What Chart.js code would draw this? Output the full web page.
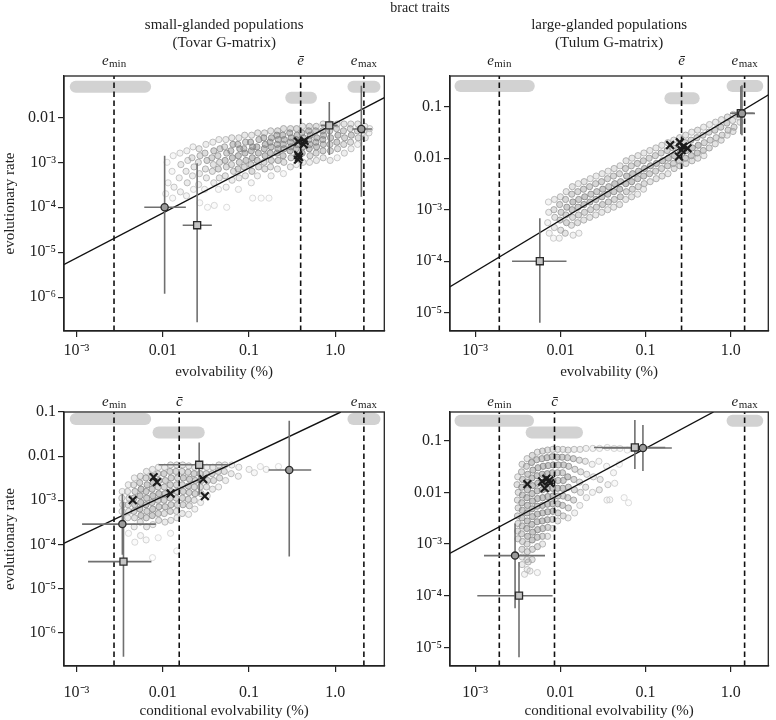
<!DOCTYPE html>
<html><head><meta charset="utf-8">
<script src="https://cdn.jsdelivr.net/npm/chart.js@4.4.1/dist/chart.umd.min.js"></script>
<style>
html,body{margin:0;padding:0;background:#fff;}
body{width:776px;height:720px;position:relative;overflow:hidden;}
canvas{position:absolute;}
#bract{position:absolute;left:370px;top:0;width:100px;text-align:center;font:14px "Liberation Serif",serif;line-height:16px;color:#222;z-index:5;}
</style></head>
<body>
<div id="bract">bract traits</div>
<canvas id="c1" width="392" height="385" style="left:0;top:0"></canvas>
<canvas id="c2" width="384" height="385" style="left:392px;top:0"></canvas>
<canvas id="c3" width="392" height="335" style="left:0;top:385px"></canvas>
<canvas id="c4" width="384" height="335" style="left:392px;top:385px"></canvas>
<script>
// ================= DATA =================
const xTickVals = [0.001, 0.01, 0.1, 1];
const xTickLabels = ['10⁻³', '0.01', '0.1', '1.0'];
const yTickVals = [0.1, 0.01, 1e-3, 1e-4, 1e-5, 1e-6];
const yTickLabels = ['0.1', '0.01', '10⁻³', '10⁻⁴', '10⁻⁵', '10⁻⁶'];

const panelTitles = [['small-glanded populations', '(Tovar G-matrix)'], ['large-glanded populations', '(Tulum G-matrix)'], null, null];
const xTitles = ['evolvability (%)', 'evolvability (%)', 'conditional evolvability (%)', 'conditional evolvability (%)'];
const yTitle = 'evolutionary rate';
const markLabelsTop = [['e', 'min'], ['ē', ''], ['e', 'max']];
const markLabelsBottom = [['e', 'min'], ['c̄', ''], ['e', 'max']];

// axis ranges [min, max]
const p1X = [7.16e-4, 3.69], p1Y = [1.78e-7, 0.0828];
const p2X = [5.07e-4, 2.75], p2Y = [4.42e-6, 0.394];
const p3X = [7.16e-4, 3.69], p3Y = [1.75e-7, 0.1];
const p4X = [5.07e-4, 2.75], p4Y = [4.35e-6, 0.36];

// dashed reference lines: e_min, mean, e_max
const p1Marks = [0.00272, 0.396, 2.14];
const p2Marks = [0.00192, 0.264, 1.45];
const p3Marks = [0.00272, 0.0155, 2.14];
const p4Marks = [0.00192, 0.00853, 1.45];

// grey interval bars [from, to, level]
const p1Bands = [[0.00098, 0.00624, 0.0479], [0.308, 0.521, 0.0273], [1.62, 2.84, 0.0479]];
const p2Bands = [[0.000673, 0.00426, 0.252], [0.1955, 0.366, 0.1455], [1.047, 2.04, 0.252]];
const p3Bands = [[0.00098, 0.00624, 0.0693], [0.00893, 0.0261, 0.0344], [1.62, 2.84, 0.0693]];
const p4Bands = [[0.000673, 0.00417, 0.244], [0.0046, 0.01567, 0.1445], [1.047, 2.04, 0.244]];

// regression line endpoints
const p1Fit = [[7.0e-4, 5.25e-6], [3.7, 2.74e-2]];
const p2Fit = [[5.0e-4, 3.15e-5], [2.8, 0.172]];
const p3Fit = [[7.0e-4, 1.04e-4], [1.156, 0.1]];
const p4Fit = [[5.0e-4, 6.56e-4], [0.626, 0.36]];

// estimates [x, y, xlo, xhi, ylo, yhi, marker]
const p1Est = [
  [0.0105, 1.0e-4, 0.0061, 0.0185, 1.2e-6, 1.4e-3, 'circle'],
  [0.025, 4.0e-5, 0.017, 0.037, 2.8e-7, 9.5e-4, 'square'],
  [0.85, 6.6e-3, 0.68, 1.06, 1.45e-3, 0.022, 'square'],
  [2.0, 5.5e-3, 1.57, 2.66, 1.72e-4, 0.05, 'circle']];
const p2Est = [
  [0.00574, 1.0e-4, 0.00271, 0.0118, 6.4e-6, 6.8e-4, 'square'],
  [1.31, 0.0744, 0.98, 1.85, 0.029, 0.25, 'square'],
  [1.35, 0.074, 1.03, 1.92, 0.028, 0.26, 'circle']];
const p3Est = [
  [0.0034, 2.88e-4, 0.00116, 0.0083, 5.8e-5, 1.4e-3, 'circle'],
  [0.0035, 4.07e-5, 0.00136, 0.00738, 2.85e-7, 9.3e-4, 'square'],
  [0.0264, 6.37e-3, 0.00893, 0.0588, 1.33e-3, 0.0204, 'square'],
  [0.292, 4.83e-3, 0.168, 0.525, 5.28e-5, 0.0635, 'circle']];
const p4Est = [
  [0.00294, 5.97e-4, 0.00127, 0.0066, 5.7e-5, 2.5e-3, 'circle'],
  [0.00327, 1.0e-4, 0.00106, 0.0081, 6.4e-6, 4.5e-4, 'square'],
  [0.0748, 0.0741, 0.0248, 0.17, 0.0283, 0.252, 'square'],
  [0.093, 0.0721, 0.031, 0.203, 0.0258, 0.201, 'circle']];

// observed populations (crosses)
const p1Cross = [[0.37, 2.9e-3], [0.44, 3.0e-3], [0.43, 2.5e-3], [0.37, 1.45e-3], [0.37, 1.15e-3], [0.38, 1.3e-3]];
const p2Cross = [[0.194, 0.018], [0.252, 0.0204], [0.264, 0.0144], [0.31, 0.0156], [0.246, 0.0107], [0.275, 0.0167]];
const p3Cross = [[0.00783, 3.35e-3], [0.00855, 2.58e-3], [0.00448, 1.01e-3], [0.01233, 1.42e-3], [0.0294, 3.02e-3], [0.0307, 1.24e-3]];
const p4Cross = [[0.0041, 0.01446], [0.0061, 0.01626], [0.00684, 0.01833], [0.0074, 0.017], [0.00655, 0.0121], [0.00759, 0.0151]];

// simulated clouds
const p1Cloud = [
[0.0112,1.0e-3],[0.0115,3.5e-4],[0.0108,2.0e-4],
[0.0132,1.4e-3],[0.0128,6.3e-4],[0.0135,2.8e-4],[0.013,1.6e-4],
[0.0158,1.6e-3],[0.0162,8.9e-4],[0.0155,4.5e-4],[0.016,2.2e-4],
[0.019,1.8e-3],[0.0195,1.1e-3],[0.0186,6.3e-4],[0.0192,3.5e-4],[0.0188,1.8e-4],
[0.0224,2.2e-3],[0.0218,1.26e-3],[0.023,7.9e-4],[0.0221,5.0e-4],[0.0227,2.5e-4],
[0.0263,2.0e-3],[0.027,1.4e-3],[0.0258,1.0e-3],[0.0266,5.6e-4],[0.026,3.2e-4],[0.0268,1.26e-4],
[0.0316,2.5e-3],[0.0308,1.6e-3],[0.0325,1.1e-3],[0.0312,7.1e-4],[0.032,4.5e-4],[0.0305,2.5e-4],[0.033,1.0e-4],
[0.038,2.8e-3],[0.039,1.8e-3],[0.037,1.26e-3],[0.0385,8.9e-4],[0.0375,6.3e-4],[0.039,3.5e-4],[0.0395,1.1e-4],
[0.0447,3.2e-3],[0.046,2.0e-3],[0.0435,1.4e-3],[0.0455,1.0e-3],[0.044,7.1e-4],[0.0452,4.5e-4],[0.0442,2.5e-4],
[0.0537,3.2e-3],[0.052,2.2e-3],[0.055,1.6e-3],[0.0528,1.1e-3],[0.0545,7.9e-4],[0.053,5.0e-4],[0.0542,2.8e-4],[0.055,1.0e-4],
[0.063,3.5e-3],[0.065,2.5e-3],[0.0615,1.8e-3],[0.064,1.26e-3],[0.0625,8.9e-4],[0.066,6.3e-4],[0.0635,4.0e-4],
[0.076,3.5e-3],[0.074,2.5e-3],[0.078,2.0e-3],[0.075,1.4e-3],[0.077,1.0e-3],[0.0745,7.1e-4],[0.0765,4.5e-4],[0.0752,2.5e-4],
[0.089,4.0e-3],[0.091,2.8e-3],[0.087,2.0e-3],[0.0895,1.6e-3],[0.092,1.1e-3],[0.088,7.9e-4],[0.0905,5.0e-4],
[0.107,4.0e-3],[0.104,2.8e-3],[0.11,2.2e-3],[0.106,1.8e-3],[0.109,1.26e-3],[0.105,8.9e-4],[0.108,6.3e-4],[0.106,3.5e-4],[0.11,1.6e-4],
[0.126,4.5e-3],[0.13,3.2e-3],[0.123,2.2e-3],[0.128,1.6e-3],[0.124,1.1e-3],[0.129,7.9e-4],[0.125,5.0e-4],[0.138,1.6e-4],
[0.151,4.5e-3],[0.148,3.5e-3],[0.154,2.5e-3],[0.15,2.0e-3],[0.153,1.4e-3],[0.149,1.0e-3],[0.152,7.1e-4],[0.17,1.6e-4],
[0.178,5.0e-3],[0.182,3.5e-3],[0.175,2.8e-3],[0.18,2.2e-3],[0.176,1.6e-3],[0.181,1.1e-3],[0.177,7.9e-4],[0.18,5.0e-4],
[0.214,5.0e-3],[0.21,4.0e-3],[0.218,3.2e-3],[0.212,2.5e-3],[0.216,2.0e-3],[0.211,1.6e-3],[0.217,1.1e-3],[0.213,7.1e-4],
[0.251,5.6e-3],[0.246,4.0e-3],[0.256,3.2e-3],[0.249,2.5e-3],[0.254,2.0e-3],[0.248,1.4e-3],[0.253,1.0e-3],[0.25,5.6e-4],
[0.302,5.6e-3],[0.296,4.5e-3],[0.308,3.5e-3],[0.3,2.8e-3],[0.305,2.2e-3],[0.298,1.8e-3],[0.306,1.26e-3],[0.301,7.9e-4],
[0.355,5.6e-3],[0.36,4.0e-3],[0.35,3.2e-3],[0.358,2.5e-3],[0.352,2.0e-3],[0.357,1.4e-3],[0.353,8.9e-4],
[0.417,6.3e-3],[0.41,4.5e-3],[0.425,3.5e-3],[0.415,2.8e-3],[0.42,2.2e-3],[0.412,1.6e-3],[0.422,1.0e-3],
[0.5,6.3e-3],[0.49,5.0e-3],[0.51,4.0e-3],[0.495,3.2e-3],[0.505,2.5e-3],[0.498,2.0e-3],[0.508,1.4e-3],[0.502,1.0e-3],
[0.6,6.3e-3],[0.59,5.0e-3],[0.61,3.5e-3],[0.595,2.8e-3],[0.605,2.2e-3],[0.598,1.6e-3],[0.603,1.1e-3],
[0.72,7.1e-3],[0.71,5.0e-3],[0.73,4.0e-3],[0.715,3.2e-3],[0.725,2.5e-3],[0.718,1.8e-3],[0.722,1.26e-3],
[0.87,7.1e-3],[0.86,5.0e-3],[0.88,3.5e-3],[0.865,2.5e-3],[0.875,1.8e-3],[0.87,1.1e-3],
[1.05,7.1e-3],[1.03,5.6e-3],[1.07,4.0e-3],[1.04,2.8e-3],[1.06,2.0e-3],[1.05,1.26e-3],
[1.26,7.1e-3],[1.24,5.0e-3],[1.28,3.5e-3],[1.25,2.5e-3],[1.27,1.6e-3],
[1.51,7.1e-3],[1.49,5.6e-3],[1.53,4.0e-3],[1.5,2.8e-3],[1.52,2.0e-3],
[1.82,7.1e-3],[1.8,5.0e-3],[1.84,3.5e-3],[1.81,2.5e-3],
[2.19,6.3e-3],[2.16,5.0e-3],[2.22,3.5e-3],
[2.5,5.6e-3],[2.45,4.5e-3]];

const p2Cloud = [
[0.00724,1.41e-3],[0.0073,8.9e-4],[0.0071,5.6e-4],[0.0074,3.5e-4],
[0.00851,1.58e-3],[0.0084,1.0e-3],[0.0086,7.1e-4],[0.0085,4.5e-4],[0.0083,2.8e-4],
[0.01,1.78e-3],[0.0098,1.26e-3],[0.0102,8.9e-4],[0.0099,6.3e-4],[0.0101,4.0e-4],[0.0097,2.8e-4],
[0.0117,2.24e-3],[0.0115,1.58e-3],[0.0119,1.12e-3],[0.0116,7.9e-4],[0.0118,5.6e-4],[0.0114,3.5e-4],
[0.0138,2.8e-3],[0.0136,2.0e-3],[0.014,1.41e-3],[0.0137,1.0e-3],[0.0139,7.1e-4],[0.0135,5.0e-4],[0.0141,3.2e-4],
[0.0162,3.2e-3],[0.016,2.24e-3],[0.0164,1.58e-3],[0.0161,1.12e-3],[0.0163,7.9e-4],[0.0159,5.6e-4],[0.0165,3.5e-4],
[0.019,3.5e-3],[0.0187,2.5e-3],[0.0193,1.78e-3],[0.0189,1.26e-3],[0.0192,8.9e-4],[0.0188,6.3e-4],
[0.0224,4.0e-3],[0.022,2.8e-3],[0.0228,2.0e-3],[0.0222,1.41e-3],[0.0226,1.0e-3],[0.0221,7.1e-4],
[0.0263,4.5e-3],[0.0259,3.2e-3],[0.0267,2.24e-3],[0.0261,1.58e-3],[0.0265,1.12e-3],[0.026,7.9e-4],
[0.0309,5.0e-3],[0.0304,3.5e-3],[0.0314,2.5e-3],[0.0307,1.78e-3],[0.0312,1.26e-3],[0.0306,8.9e-4],
[0.0363,5.6e-3],[0.0357,4.0e-3],[0.0369,2.8e-3],[0.036,2.0e-3],[0.0366,1.41e-3],[0.0359,1.0e-3],
[0.0427,6.3e-3],[0.042,4.5e-3],[0.0434,3.2e-3],[0.0424,2.24e-3],[0.043,1.58e-3],[0.0422,1.12e-3],
[0.0501,7.1e-3],[0.0493,5.0e-3],[0.0509,3.5e-3],[0.0497,2.5e-3],[0.0505,1.78e-3],[0.0495,1.26e-3],
[0.0589,8.9e-3],[0.058,6.3e-3],[0.0598,4.5e-3],[0.0585,3.2e-3],[0.0594,2.24e-3],[0.0583,1.58e-3],
[0.0692,1.0e-2],[0.068,7.1e-3],[0.0704,5.0e-3],[0.0687,3.5e-3],[0.0698,2.5e-3],[0.0685,1.78e-3],
[0.0813,1.12e-2],[0.08,7.9e-3],[0.0826,5.6e-3],[0.0807,4.0e-3],[0.082,2.8e-3],[0.0805,2.0e-3],
[0.0955,1.26e-2],[0.094,8.9e-3],[0.097,6.3e-3],[0.0948,4.5e-3],[0.0962,3.2e-3],[0.0945,2.5e-3],
[0.112,1.41e-2],[0.11,1.0e-2],[0.114,7.1e-3],[0.111,5.0e-3],[0.113,3.5e-3],
[0.132,1.58e-2],[0.13,1.12e-2],[0.134,7.9e-3],[0.131,5.6e-3],[0.133,4.0e-3],
[0.155,1.78e-2],[0.152,1.26e-2],[0.158,8.9e-3],[0.154,6.3e-3],[0.156,4.5e-3],
[0.182,2.0e-2],[0.179,1.41e-2],[0.185,1.0e-2],[0.181,7.1e-3],[0.183,5.0e-3],
[0.214,2.24e-2],[0.21,1.58e-2],[0.218,1.12e-2],[0.212,7.9e-3],[0.216,6.3e-3],
[0.251,2.5e-2],[0.247,1.78e-2],[0.255,1.26e-2],[0.249,8.9e-3],[0.253,7.1e-3],
[0.295,2.8e-2],[0.29,2.0e-2],[0.3,1.41e-2],[0.293,1.0e-2],[0.297,7.9e-3],
[0.347,3.2e-2],[0.341,2.24e-2],[0.353,1.58e-2],[0.344,1.12e-2],[0.35,8.9e-3],
[0.407,3.5e-2],[0.4,2.5e-2],[0.414,1.78e-2],[0.404,1.26e-2],[0.41,1.0e-2],
[0.479,4.0e-2],[0.471,2.8e-2],[0.487,2.0e-2],[0.475,1.41e-2],[0.483,1.12e-2],
[0.562,4.5e-2],[0.553,3.2e-2],[0.571,2.24e-2],[0.558,1.58e-2],
[0.661,5.0e-2],[0.65,3.5e-2],[0.672,2.5e-2],[0.656,1.9e-2],
[0.776,5.6e-2],[0.763,4.0e-2],[0.789,2.8e-2],[0.77,2.24e-2],
[0.912,6.3e-2],[0.897,4.8e-2],[0.927,3.5e-2],[0.905,2.8e-2],
[1.07,7.1e-2],[1.05,5.4e-2],[1.09,4.0e-2],[1.06,3.3e-2],
[1.26,7.6e-2],[1.24,6.3e-2],[1.28,5.0e-2]];

const p3Cloud = [
[0.00339,1.58e-3],[0.00335,1.12e-3],[0.00343,7.9e-4],[0.00337,5.6e-4],
[0.00398,2.24e-3],[0.0039,1.58e-3],[0.00405,1.12e-3],[0.00395,7.9e-4],[0.00402,5.6e-4],[0.00392,4.0e-4],[0.004,1.78e-4],
[0.00468,3.2e-3],[0.0046,2.24e-3],[0.00476,1.58e-3],[0.00464,1.12e-3],[0.00472,7.9e-4],[0.00462,5.6e-4],[0.0047,4.0e-4],[0.00466,2.5e-4],[0.00474,1.12e-4],
[0.0055,3.5e-3],[0.0054,2.5e-3],[0.0056,1.78e-3],[0.00545,1.26e-3],[0.00555,8.9e-4],[0.00542,6.3e-4],[0.00558,4.5e-4],[0.00548,3.2e-4],[0.00552,1.58e-4],
[0.00646,4.5e-3],[0.00635,3.2e-3],[0.00657,2.24e-3],[0.0064,1.58e-3],[0.0065,1.12e-3],[0.00638,7.9e-4],[0.00654,5.6e-4],[0.00643,4.0e-4],[0.00649,2.5e-4],[0.00641,1.26e-4],
[0.00759,5.0e-3],[0.00745,3.5e-3],[0.00772,2.5e-3],[0.00752,1.78e-3],[0.00766,1.26e-3],[0.00749,8.9e-4],[0.00763,6.3e-4],[0.00755,4.5e-4],[0.00768,2.8e-4],[0.0076,5.0e-5],
[0.00891,5.6e-3],[0.00875,4.0e-3],[0.00907,2.8e-3],[0.00883,2.0e-3],[0.00899,1.41e-3],[0.0088,1.0e-3],[0.00902,7.1e-4],[0.00887,5.0e-4],[0.00895,3.5e-4],[0.00885,1.41e-4],
[0.0105,5.6e-3],[0.0103,4.0e-3],[0.0107,2.8e-3],[0.0104,2.0e-3],[0.0106,1.41e-3],[0.01035,1.0e-3],[0.01065,7.1e-4],[0.0104,5.0e-4],[0.0106,3.2e-4],
[0.0123,6.3e-3],[0.0121,4.5e-3],[0.0125,3.2e-3],[0.0122,2.24e-3],[0.0124,1.58e-3],[0.01215,1.12e-3],[0.01245,7.9e-4],[0.0122,5.6e-4],[0.0124,3.5e-4],[0.0123,1.78e-4],
[0.0145,6.3e-3],[0.0142,4.5e-3],[0.0148,3.2e-3],[0.0144,2.24e-3],[0.0146,1.58e-3],[0.0143,1.12e-3],[0.0147,7.9e-4],[0.0144,5.6e-4],[0.0146,4.0e-4],[0.0145,7.1e-5],
[0.017,6.3e-3],[0.0167,4.5e-3],[0.0173,3.2e-3],[0.0168,2.24e-3],[0.0172,1.58e-3],[0.0169,1.12e-3],[0.0171,7.9e-4],[0.0168,5.0e-4],
[0.02,6.0e-3],[0.0196,4.3e-3],[0.0204,3.0e-3],[0.0198,2.1e-3],[0.0202,1.5e-3],[0.0197,1.05e-3],[0.0203,7.5e-4],[0.0199,4.8e-4],
[0.0234,5.6e-3],[0.023,4.0e-3],[0.0238,2.8e-3],[0.0232,2.0e-3],[0.0236,1.41e-3],[0.0231,1.0e-3],[0.0235,6.3e-4],
[0.0275,5.6e-3],[0.027,4.0e-3],[0.028,2.8e-3],[0.0272,2.0e-3],[0.0278,1.41e-3],[0.0274,8.9e-4],
[0.0324,5.6e-3],[0.0318,4.0e-3],[0.033,2.8e-3],[0.0321,2.0e-3],[0.0327,1.26e-3],
[0.038,5.6e-3],[0.0373,4.0e-3],[0.0387,2.8e-3],[0.0377,1.78e-3],
[0.0447,6.3e-3],[0.044,4.5e-3],[0.0455,3.2e-3],[0.0443,2.0e-3],
[0.0525,6.3e-3],[0.0516,4.5e-3],[0.0534,2.8e-3],
[0.063,6.3e-3],[0.062,4.0e-3],
[0.076,5.6e-3],[0.075,3.5e-3],
[0.1,5.0e-3],[0.115,4.2e-3],[0.135,5.8e-3],[0.158,5.0e-3],[0.219,5.8e-3]];

const p4Cloud = [
[0.00316,2.0e-2],[0.0031,1.41e-2],[0.0032,1.0e-2],[0.00313,7.1e-3],[0.00319,5.0e-3],[0.00314,3.5e-3],[0.00318,2.5e-3],[0.00315,1.78e-3],[0.00317,1.26e-3],
[0.00355,3.5e-2],[0.0035,2.5e-2],[0.0036,1.78e-2],[0.00352,1.26e-2],[0.00358,8.9e-3],[0.00353,6.3e-3],[0.00357,4.5e-3],[0.00354,3.2e-3],[0.00356,2.24e-3],[0.00351,1.58e-3],[0.00359,1.12e-3],[0.00354,7.9e-4],[0.00357,5.6e-4],[0.00355,4.0e-4],
[0.00407,4.5e-2],[0.004,3.2e-2],[0.00414,2.24e-2],[0.00403,1.58e-2],[0.00411,1.12e-2],[0.00404,7.9e-3],[0.0041,5.6e-3],[0.00405,4.0e-3],[0.00409,2.8e-3],[0.00403,2.0e-3],[0.00412,1.41e-3],[0.00406,1.0e-3],[0.00409,7.1e-4],[0.00404,5.0e-4],[0.00408,3.2e-4],
[0.00468,5.2e-2],[0.0046,3.8e-2],[0.00476,2.7e-2],[0.00464,1.9e-2],[0.00472,1.35e-2],[0.00465,9.5e-3],[0.00471,6.8e-3],[0.00466,4.8e-3],[0.0047,3.4e-3],[0.00463,2.4e-3],[0.00473,1.7e-3],[0.00467,1.2e-3],[0.00469,7.9e-4],[0.00466,5.0e-4],
[0.00537,6.0e-2],[0.00528,4.3e-2],[0.00546,3.0e-2],[0.00532,2.1e-2],[0.00542,1.5e-2],[0.00534,1.07e-2],[0.0054,7.6e-3],[0.00535,5.4e-3],[0.00539,3.8e-3],[0.00533,2.7e-3],[0.00541,1.9e-3],[0.00536,1.35e-3],[0.00538,8.9e-4],[0.00537,2.8e-4],
[0.00617,6.3e-2],[0.00607,4.5e-2],[0.00627,3.2e-2],[0.00612,2.24e-2],[0.00622,1.58e-2],[0.00614,1.12e-2],[0.0062,7.9e-3],[0.00615,5.6e-3],[0.00619,4.0e-3],[0.00613,2.8e-3],[0.00621,2.0e-3],[0.00616,1.41e-3],[0.00618,1.0e-3],
[0.00708,6.6e-2],[0.00697,4.7e-2],[0.00719,3.3e-2],[0.00702,2.3e-2],[0.00714,1.66e-2],[0.00704,1.17e-2],[0.00712,8.3e-3],[0.00706,5.9e-3],[0.0071,4.2e-3],[0.00703,2.95e-3],[0.00713,2.1e-3],[0.00707,1.41e-3],
[0.00813,6.8e-2],[0.008,4.9e-2],[0.00826,3.4e-2],[0.00806,2.4e-2],[0.0082,1.7e-2],[0.00809,1.2e-2],[0.00817,8.5e-3],[0.0081,6.0e-3],[0.00816,4.3e-3],[0.00808,3.0e-3],[0.00818,2.0e-3],
[0.00933,6.8e-2],[0.00918,4.8e-2],[0.00948,3.4e-2],[0.00925,2.4e-2],[0.0094,1.7e-2],[0.00928,1.2e-2],[0.00938,8.5e-3],[0.0093,6.0e-3],[0.00936,4.0e-3],[0.00931,2.8e-3],
[0.0107,6.8e-2],[0.0105,4.8e-2],[0.0109,3.4e-2],[0.0106,2.4e-2],[0.0108,1.7e-2],[0.01065,1.2e-2],[0.01075,8.5e-3],[0.0106,5.6e-3],[0.0108,3.5e-3],
[0.0123,6.6e-2],[0.0121,4.7e-2],[0.0125,3.2e-2],[0.0122,2.0e-2],[0.0124,1.26e-2],[0.0122,7.9e-3],[0.0124,5.0e-3],[0.0123,3.2e-3],
[0.0145,6.8e-2],[0.0142,4.5e-2],[0.0148,2.8e-2],[0.0144,1.78e-2],[0.0146,1.12e-2],[0.0143,7.1e-3],[0.0147,4.0e-3],
[0.017,6.8e-2],[0.0167,4.2e-2],[0.0173,2.5e-2],[0.0168,1.58e-2],[0.0172,1.0e-2],[0.0169,5.6e-3],
[0.02,7.1e-2],[0.0196,4.0e-2],[0.0204,2.24e-2],[0.0198,1.26e-2],[0.0202,7.9e-3],
[0.024,7.1e-2],[0.0236,3.5e-2],[0.0244,2.0e-2],[0.0238,1.0e-2],
[0.0288,7.1e-2],[0.0283,4.0e-2],[0.0293,1.78e-2],[0.0286,1.12e-2],
[0.0355,7.4e-2],[0.0349,3.2e-2],[0.0361,1.41e-2],[0.0352,7.1e-3],
[0.0427,7.1e-2],[0.042,2.4e-2],[0.0434,1.5e-2],[0.038,7.2e-3],
[0.05,7.1e-2],[0.0492,3.5e-2],[0.056,7.9e-3],[0.063,6.3e-3],[0.061,6.6e-2],
[0.0038,2.6e-4],[0.0044,3.0e-4],[0.0042,4.5e-4]];

// ================= RENDER =================
Chart.defaults.font.family = '"Liberation Serif", "Times New Roman", serif';
Chart.defaults.color = '#222';

const panels = [
  {id:'c1', X:p1X, Y:p1Y, marks:p1Marks, labels:markLabelsTop, bands:p1Bands, fit:p1Fit, est:p1Est, cross:p1Cross, cloud:p1Cloud,
   title:panelTitles[0], xTitle:xTitles[0], yT:true, yW:64, padTop:76, padRight:3, xH:54, tickPad:4, titlePad:4, markBase:-11, titleY:[25,43]},
  {id:'c2', X:p2X, Y:p2Y, marks:p2Marks, labels:markLabelsTop, bands:p2Bands, fit:p2Fit, est:p2Est, cross:p2Cross, cloud:p2Cloud,
   title:panelTitles[1], xTitle:xTitles[1], yT:false, yW:58, padTop:76, padRight:1, xH:54, tickPad:4, titlePad:4, markBase:-11, titleY:[25,43]},
  {id:'c3', X:p3X, Y:p3Y, marks:p3Marks, labels:markLabelsBottom, bands:p3Bands, fit:p3Fit, est:p3Est, cross:p3Cross, cloud:p3Cloud,
   title:panelTitles[2], xTitle:xTitles[2], yT:true, yW:64, padTop:27, padRight:3, xH:54, tickPad:11, titlePad:0, markBase:-6},
  {id:'c4', X:p4X, Y:p4Y, marks:p4Marks, labels:markLabelsBottom, bands:p4Bands, fit:p4Fit, est:p4Est, cross:p4Cross, cloud:p4Cloud,
   title:panelTitles[3], xTitle:xTitles[3], yT:false, yW:58, padTop:27, padRight:1, xH:54, tickPad:11, titlePad:0, markBase:-6}
];

// shade each simulated point by local density (overlap look of the original)
function cloudStyle(pts) {
  const L = pts.map(([x, y]) => [Math.log10(x), Math.log10(y)]);
  const border = [], fill = [];
  L.forEach(([a, b]) => {
    let n = 0;
    for (const [c, d] of L) { const dx = (a - c) / 0.2, dy = (b - d) / 0.3; if (dx * dx + dy * dy < 1) n++; }
    const g = Math.round(Math.max(132, Math.min(214, 232 - 5.5 * n)));
    border.push('rgba(' + g + ',' + g + ',' + g + ',0.85)');
    fill.push('rgba(' + g + ',' + g + ',' + g + ',' + Math.min(0.45, 0.025 * n).toFixed(2) + ')');
  });
  return {border, fill};
}

function seg(data, color, width, extra) {
  return Object.assign({data: data, showLine: true, pointRadius: 0, borderColor: color, borderWidth: width, fill: false}, extra || {});
}

function buildDatasets(p) {
  const ds = [];
  const circ = p.est.filter(e => e[6] === 'circle'), sq = p.est.filter(e => e[6] === 'square');
  ds.push({data: p.cross.map(([x, y]) => ({x, y})), pointStyle: 'crossRot', pointRadius: 5.5, borderWidth: 2.2, borderColor: '#1c1c1c', order: 0});
  ds.push({data: circ.map(e => ({x: e[0], y: e[1]})), pointStyle: 'circle', pointRadius: 3.6, backgroundColor: '#9b9b9b', borderColor: '#2b2b2b', borderWidth: 1.3, order: 1});
  ds.push({data: sq.map(e => ({x: e[0], y: e[1]})), pointStyle: 'rect', pointRadius: 5, backgroundColor: '#c4c4c4', borderColor: '#2b2b2b', borderWidth: 1.3, order: 2});
  p.est.forEach(e => {
    ds.push(seg([{x: e[2], y: e[1]}, {x: e[3], y: e[1]}], '#707070', 1.6, {order: 3}));
    ds.push(seg([{x: e[0], y: e[4]}, {x: e[0], y: e[5]}], '#707070', 1.6, {order: 3}));
  });
  ds.push(seg(p.fit.map(([x, y]) => ({x, y})), '#111', 1.4, {order: 4}));
  p.marks.forEach(m => ds.push(seg([{x: m, y: p.Y[0]}, {x: m, y: p.Y[1]}], '#111', 1.6, {borderDash: [5.5, 3.5], order: 5})));
  const cs = cloudStyle(p.cloud);
  ds.push({data: p.cloud.map(([x, y]) => ({x, y})), pointStyle: 'circle', pointRadius: 3.1, backgroundColor: cs.fill,
           borderColor: cs.border, borderWidth: 1, order: 6});
  p.bands.forEach(b => ds.push(seg([{x: b[0], y: b[2]}, {x: b[1], y: b[2]}], '#d2d2d2', 12, {borderCapStyle: 'round', order: 7})));
  return ds;
}

function drawMark(ctx, cx, baseY, lab) {
  ctx.textAlign = 'left'; ctx.textBaseline = 'alphabetic'; ctx.fillStyle = '#222';
  ctx.font = 'italic 15px "Liberation Serif"';
  const wb = ctx.measureText(lab[0]).width;
  let ws = 0;
  if (lab[1]) { ctx.font = '11px "Liberation Serif"'; ws = ctx.measureText(lab[1]).width + 0.5; }
  const x0 = cx - (wb + ws) / 2;
  ctx.font = 'italic 15px "Liberation Serif"';
  ctx.fillText(lab[0], x0, baseY);
  if (lab[1]) { ctx.font = '11px "Liberation Serif"'; ctx.fillText(lab[1], x0 + wb + 0.5, baseY + 2); }
}

function decor(p) {
  return {
    id: 'decor',
    afterDraw(chart) {
      const {ctx, chartArea: a} = chart;
      ctx.save();
      ctx.strokeStyle = '#222'; ctx.lineWidth = 1.3;
      ctx.strokeRect(a.left, a.top, a.right - a.left, a.bottom - a.top);
      const xs = chart.scales.x;
      p.marks.forEach((m, i) => drawMark(ctx, xs.getPixelForValue(m), a.top + p.markBase, p.labels[i]));
      if (p.title) {
        ctx.font = '15px "Liberation Serif"'; ctx.fillStyle = '#222'; ctx.textAlign = 'center'; ctx.textBaseline = 'middle';
        const cx = (a.left + a.right) / 2;
        p.title.forEach((t, i) => ctx.fillText(t, cx, p.titleY[i]));
      }
      ctx.restore();
    }
  };
}

panels.forEach(p => {
  new Chart(document.getElementById(p.id), {
    type: 'scatter',
    data: {datasets: buildDatasets(p)},
    plugins: [decor(p)],
    options: {
      responsive: false, animation: false, events: [],
      layout: {padding: {top: p.padTop, right: p.padRight, left: 0, bottom: 0}},
      plugins: {legend: {display: false}, tooltip: {enabled: false}},
      scales: {
        x: {
          type: 'logarithmic', position: 'bottom', min: p.X[0], max: p.X[1],
          afterBuildTicks: s => { s.ticks = xTickVals.map(v => ({value: v})); },
          afterFit: s => { s.height = p.xH; },
          ticks: {autoSkip: false, maxRotation: 0, padding: p.tickPad, font: {size: 16}, color: '#222',
                  callback: v => { const i = xTickVals.indexOf(v); return i >= 0 ? xTickLabels[i] : ''; }},
          grid: {display: true, drawOnChartArea: false, drawTicks: true, tickLength: 6, color: '#222', lineWidth: 1.2},
          border: {display: true, color: '#222', width: 1.3},
          title: {display: true, text: p.xTitle, font: {size: 15}, color: '#222', padding: {top: 0, bottom: p.titlePad}}
        },
        y: {
          type: 'logarithmic', position: 'left', min: p.Y[0], max: p.Y[1],
          afterBuildTicks: s => { s.ticks = yTickVals.filter(v => v >= p.Y[0] && v <= p.Y[1] * 1.0001).map(v => ({value: v})); },
          afterFit: s => { s.width = p.yW; },
          ticks: {autoSkip: false, padding: 2, font: {size: 16}, color: '#222',
                  callback: v => { const i = yTickVals.indexOf(v); return i >= 0 ? yTickLabels[i] : ''; }},
          grid: {display: true, drawOnChartArea: false, drawTicks: true, tickLength: 6, color: '#222', lineWidth: 1.2},
          border: {display: true, color: '#222', width: 1.3},
          title: {display: p.yT, text: yTitle, font: {size: 15}, color: '#222', padding: {top: 1, bottom: 0}}
        }
      }
    }
  });
});
</script>
</body></html>
